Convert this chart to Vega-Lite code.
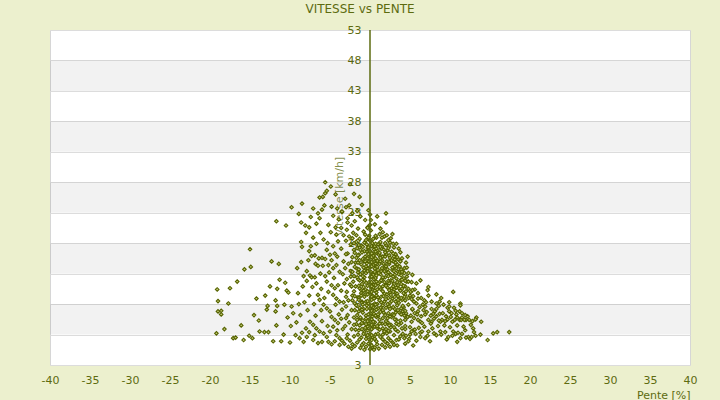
{
"$schema": "https://vega.github.io/schema/vega-lite/v6.json",
"width": 640,
"height": 335,
"autosize": {"type": "none"},
"padding": {"left": 50, "top": 30, "right": 30, "bottom": 35},
"background": "#ECF0CE",
"config": {"view": {"fill": "white", "stroke": "#d6d6d6", "strokeWidth": 1}, "font": "DejaVu Sans"},
"title": {"text": "VITESSE vs PENTE", "fontSize": 12, "fontWeight": "normal", "color": "#5d6b10", "font": "DejaVu Sans", "anchor": "middle", "dx": -10, "offset": 8},
"datasets": {
"bands": [{"start": 43, "end": 48}, {"start": 33, "end": 38}, {"start": 23, "end": 28}, {"start": 13, "end": 18}, {"start": 3, "end": 8}],
"points": [
{"pente":-19.1,"vitesse":10.4},{"pente":-17.5,"vitesse":10.6},{"pente":-19.0,"vitesse":8.5},{"pente":-17.7,"vitesse":8.1},{"pente":-19.0,"vitesse":6.8},{"pente":-18.6,"vitesse":6.9},{"pente":-18.6,"vitesse":6.3},{"pente":-14.5,"vitesse":6.2},{"pente":-16.1,"vitesse":4.5},{"pente":-18.2,"vitesse":3.9},{"pente":-19.2,"vitesse":3.2},{"pente":-17.1,"vitesse":2.4},{"pente":-16.8,"vitesse":2.5},{"pente":-15.8,"vitesse":2.1},{"pente":-15.1,"vitesse":2.8},{"pente":-14.7,"vitesse":2.4},{"pente":-13.8,"vitesse":3.5},{"pente":-13.2,"vitesse":3.4},{"pente":-12.7,"vitesse":3.4},{"pente":-12.1,"vitesse":1.9},{"pente":-11.1,"vitesse":1.9},{"pente":-10.0,"vitesse":1.7},{"pente":-15.0,"vitesse":17.0},{"pente":-12.3,"vitesse":15.0},{"pente":-15.7,"vitesse":13.7},{"pente":-14.9,"vitesse":14.1},{"pente":-16.6,"vitesse":11.7},{"pente":-11.7,"vitesse":21.6},{"pente":-10.5,"vitesse":20.9},{"pente":-9.8,"vitesse":23.9},{"pente":-8.5,"vitesse":24.5},{"pente":-11.3,"vitesse":12.0},{"pente":-12.5,"vitesse":10.9},{"pente":-13.1,"vitesse":9.4},{"pente":-10.6,"vitesse":11.5},{"pente":-11.6,"vitesse":10.5},{"pente":-10.4,"vitesse":10.2},{"pente":-10.2,"vitesse":9.9},{"pente":-11.8,"vitesse":8.6},{"pente":-11.6,"vitesse":7.7},{"pente":-12.8,"vitesse":7.7},{"pente":-12.9,"vitesse":7.1},{"pente":-11.8,"vitesse":6.8},{"pente":-10.7,"vitesse":7.9},{"pente":-9.8,"vitesse":7.6},{"pente":-9.6,"vitesse":6.5},{"pente":-10.3,"vitesse":5.8},{"pente":-9.9,"vitesse":4.4},{"pente":-11.7,"vitesse":4.5},{"pente":-13.9,"vitesse":5.3},{"pente":-14.2,"vitesse":8.9},{"pente":-10.8,"vitesse":3.0},{"pente":-9.3,"vitesse":2.9},{"pente":-11.4,"vitesse":14.6},
{"pente":-8.9,"vitesse":22.8},{"pente":-8.6,"vitesse":21.4},{"pente":-8.1,"vitesse":20.9},{"pente":-7.1,"vitesse":23.7},{"pente":-7.4,"vitesse":22.3},{"pente":-6.7,"vitesse":21.2},{"pente":-6.3,"vitesse":25.5},{"pente":-5.9,"vitesse":25.6},{"pente":-5.6,"vitesse":26.2},{"pente":-5.4,"vitesse":26.6},{"pente":-5.7,"vitesse":24.2},{"pente":-6.5,"vitesse":22.9},{"pente":-6.3,"vitesse":22.1},{"pente":-8.6,"vitesse":18.2},{"pente":-8.5,"vitesse":17.4},{"pente":-9.1,"vitesse":13.9},{"pente":-8.6,"vitesse":14.9},{"pente":-7.7,"vitesse":15.2},{"pente":-7.4,"vitesse":17.5},{"pente":-7.6,"vitesse":16.7},{"pente":-7.3,"vitesse":15.9},{"pente":-7.1,"vitesse":18.9},{"pente":-6.8,"vitesse":14.6},{"pente":-6.5,"vitesse":14.3},{"pente":-6.4,"vitesse":15.5},{"pente":-6.0,"vitesse":15.6},{"pente":-5.9,"vitesse":14.3},{"pente":-7.5,"vitesse":12.7},{"pente":-7.3,"vitesse":12.4},{"pente":-6.9,"vitesse":12.4},{"pente":-6.7,"vitesse":11.4},{"pente":-7.2,"vitesse":10.8},{"pente":-7.9,"vitesse":11.8},{"pente":-5.4,"vitesse":16.9},{"pente":-5.0,"vitesse":16.1},{"pente":-4.8,"vitesse":15.2},{"pente":-4.4,"vitesse":16.3},{"pente":-4.1,"vitesse":15.8},{"pente":-5.2,"vitesse":14.4},{"pente":-4.6,"vitesse":13.9},{"pente":-4.2,"vitesse":14.4},{"pente":-3.8,"vitesse":13.3},{"pente":-5.4,"vitesse":11.7},{"pente":-4.8,"vitesse":11.1},{"pente":-4.4,"vitesse":10.6},{"pente":-4.0,"vitesse":11.1},{"pente":-5.2,"vitesse":10.0},{"pente":-4.6,"vitesse":9.5},{"pente":-4.2,"vitesse":8.9},{"pente":-3.8,"vitesse":8.4},{"pente":-6.5,"vitesse":9.5},{"pente":-6.3,"vitesse":8.7},{"pente":-5.8,"vitesse":7.9},{"pente":-5.4,"vitesse":7.3},{"pente":-5.0,"vitesse":6.8},{"pente":-4.8,"vitesse":5.9},{"pente":-4.4,"vitesse":5.4},{"pente":-4.0,"vitesse":4.9},{"pente":-7.5,"vitesse":5.1},{"pente":-7.1,"vitesse":4.6},{"pente":-6.7,"vitesse":4.0},{"pente":-6.3,"vitesse":3.5},{"pente":-5.8,"vitesse":3.2},{"pente":-5.4,"vitesse":2.6},{"pente":-5.0,"vitesse":3.5},{"pente":-4.6,"vitesse":4.3},{"pente":-4.2,"vitesse":2.9},{"pente":-3.8,"vitesse":2.4},{"pente":-8.8,"vitesse":2.4},{"pente":-8.3,"vitesse":1.8},{"pente":-7.9,"vitesse":2.6},{"pente":-7.1,"vitesse":2.1},{"pente":-6.5,"vitesse":1.6},{"pente":-6.0,"vitesse":1.8},{"pente":-5.2,"vitesse":1.8},{"pente":-4.8,"vitesse":1.4},{"pente":-8.2,"vitesse":8.3},{"pente":-8.7,"vitesse":6.2},{"pente":-7.8,"vitesse":7.0},{"pente":-7.0,"vitesse":8.0},{"pente":-6.8,"vitesse":6.1},{"pente":-6.0,"vitesse":5.2},{"pente":-8.0,"vitesse":4.0},{"pente":-9.0,"vitesse":9.8},{"pente":-8.4,"vitesse":10.9},{"pente":-7.6,"vitesse":9.4},{"pente":-6.1,"vitesse":10.5},{"pente":-5.6,"vitesse":12.6},{"pente":-5.1,"vitesse":13.2},{"pente":-4.5,"vitesse":12.3},{"pente":-3.6,"vitesse":10.2},{"pente":-3.5,"vitesse":7.1},{"pente":-3.9,"vitesse":6.3},{"pente":-3.4,"vitesse":3.9},{"pente":-4.9,"vitesse":19.8},{"pente":-4.3,"vitesse":20.6},{"pente":-3.9,"vitesse":21.9},{"pente":-4.6,"vitesse":22.5},{"pente":-3.5,"vitesse":23.1},{"pente":-5.2,"vitesse":21.0},{"pente":-4.0,"vitesse":18.3},{"pente":-3.6,"vitesse":17.1},{"pente":-5.8,"vitesse":18.6},{"pente":-6.2,"vitesse":19.7},{"pente":-5.6,"vitesse":28.0},{"pente":-4.9,"vitesse":27.3},{"pente":-4.3,"vitesse":26.0},{"pente":-3.1,"vitesse":25.3},{"pente":-2.6,"vitesse":24.2},{"pente":-2.5,"vitesse":27.7},{"pente":-2.0,"vitesse":26.1},{"pente":-1.3,"vitesse":25.6},{"pente":-0.2,"vitesse":23.4},{"pente":-4.8,"vitesse":24.0},{"pente":-4.1,"vitesse":23.7},{"pente":-3.5,"vitesse":23.2},
{"pente":-2.8,"vitesse":22.1},{"pente":-1.9,"vitesse":21.6},{"pente":-1.2,"vitesse":22.4},{"pente":-0.6,"vitesse":21.8},{"pente":-2.3,"vitesse":20.9},{"pente":-2.9,"vitesse":20.2},{"pente":-2.1,"vitesse":19.7},{"pente":-1.5,"vitesse":20.4},{"pente":-0.8,"vitesse":19.9},{"pente":-0.3,"vitesse":20.6},{"pente":-2.6,"vitesse":19.1},{"pente":-3.0,"vitesse":18.4},{"pente":-2.4,"vitesse":17.8},{"pente":-1.7,"vitesse":18.2},{"pente":-1.1,"vitesse":17.6},{"pente":-0.5,"vitesse":18.5},{"pente":-2.0,"vitesse":16.9},{"pente":-2.8,"vitesse":16.3},{"pente":-2.2,"vitesse":15.7},{"pente":-1.4,"vitesse":16.1},{"pente":-0.9,"vitesse":15.4},{"pente":-0.4,"vitesse":16.6},{"pente":-1.8,"vitesse":14.8},{"pente":-2.7,"vitesse":14.6},{"pente":-3.1,"vitesse":13.9},{"pente":-2.4,"vitesse":13.4},{"pente":-1.6,"vitesse":13.8},{"pente":-1.0,"vitesse":13.1},{"pente":-0.5,"vitesse":14.2},{"pente":-2.0,"vitesse":12.6},{"pente":-2.9,"vitesse":12.1},{"pente":-1.3,"vitesse":11.9},{"pente":-0.7,"vitesse":12.4},{"pente":-2.5,"vitesse":11.2},{"pente":-1.8,"vitesse":10.9},{"pente":-0.3,"vitesse":11.0},{"pente":-1.1,"vitesse":10.3},{"pente":-2.9,"vitesse":10.0},{"pente":-2.2,"vitesse":9.4},{"pente":-1.5,"vitesse":9.1},{"pente":-0.6,"vitesse":9.6},{"pente":-2.7,"vitesse":8.6},{"pente":-1.9,"vitesse":8.1},{"pente":-1.0,"vitesse":8.4},{"pente":-0.4,"vitesse":7.8},{"pente":-3.0,"vitesse":7.6},{"pente":-2.3,"vitesse":7.0},{"pente":-1.4,"vitesse":6.8},{"pente":-0.8,"vitesse":7.2},{"pente":-2.8,"vitesse":6.2},{"pente":-2.0,"vitesse":5.8},{"pente":-1.2,"vitesse":5.6},{"pente":-0.5,"vitesse":6.1},{"pente":-2.6,"vitesse":5.0},{"pente":-1.7,"vitesse":4.7},{"pente":-0.9,"vitesse":4.9},{"pente":-0.3,"vitesse":4.3},{"pente":-3.1,"vitesse":4.4},{"pente":-2.3,"vitesse":3.9},{"pente":-1.4,"vitesse":3.7},{"pente":-0.7,"vitesse":3.4},{"pente":-2.8,"vitesse":3.0},{"pente":-2.0,"vitesse":2.7},{"pente":-1.1,"vitesse":2.5},{"pente":-0.4,"vitesse":2.8},{"pente":-2.5,"vitesse":2.0},{"pente":-1.6,"vitesse":1.7},{"pente":-0.8,"vitesse":1.6},{"pente":-3.2,"vitesse":1.5},{"pente":-1.9,"vitesse":1.1},{"pente":-1.2,"vitesse":0.8},{"pente":-0.5,"vitesse":1.0},{"pente":-2.7,"vitesse":1.0},
{"pente":0.0,"vitesse":0.6},{"pente":0.1,"vitesse":1.4},{"pente":-0.1,"vitesse":2.2},{"pente":0.0,"vitesse":3.1},{"pente":0.2,"vitesse":3.9},{"pente":-0.1,"vitesse":4.8},{"pente":0.0,"vitesse":5.6},{"pente":0.1,"vitesse":6.5},{"pente":0.0,"vitesse":7.3},{"pente":-0.2,"vitesse":8.1},{"pente":0.1,"vitesse":9.0},{"pente":0.0,"vitesse":9.9},{"pente":0.2,"vitesse":10.7},{"pente":-0.1,"vitesse":11.6},{"pente":0.0,"vitesse":12.4},{"pente":0.1,"vitesse":13.3},{"pente":0.0,"vitesse":14.1},{"pente":-0.1,"vitesse":15.0},{"pente":0.1,"vitesse":15.8},{"pente":0.0,"vitesse":16.7},{"pente":0.2,"vitesse":17.5},{"pente":0.0,"vitesse":18.4},{"pente":-0.1,"vitesse":19.2},{"pente":0.1,"vitesse":20.1},{"pente":0.0,"vitesse":21.0},{"pente":0.1,"vitesse":21.8},{"pente":0.0,"vitesse":22.7},{"pente":0.3,"vitesse":0.9},{"pente":0.3,"vitesse":2.6},{"pente":0.3,"vitesse":4.4},{"pente":0.3,"vitesse":6.0},{"pente":0.3,"vitesse":7.8},{"pente":0.3,"vitesse":9.4},{"pente":0.3,"vitesse":11.2},{"pente":0.3,"vitesse":12.9},{"pente":0.3,"vitesse":14.6},{"pente":0.3,"vitesse":16.3},{"pente":0.3,"vitesse":18.0},{"pente":-0.3,"vitesse":2.9},{"pente":-0.3,"vitesse":5.2},{"pente":-0.3,"vitesse":10.1},{"pente":-0.3,"vitesse":13.8},{"pente":-0.3,"vitesse":17.2},{"pente":-0.3,"vitesse":20.5},
{"pente":0.9,"vitesse":22.4},{"pente":2.0,"vitesse":22.9},{"pente":2.0,"vitesse":21.4},{"pente":1.3,"vitesse":20.4},{"pente":0.6,"vitesse":21.1},{"pente":1.6,"vitesse":19.8},{"pente":2.8,"vitesse":19.5},{"pente":1.8,"vitesse":19.1},{"pente":2.3,"vitesse":18.5},{"pente":0.8,"vitesse":18.9},{"pente":1.2,"vitesse":17.9},{"pente":2.9,"vitesse":17.9},{"pente":2.4,"vitesse":17.5},{"pente":0.5,"vitesse":17.4},{"pente":1.7,"vitesse":17.0},{"pente":0.7,"vitesse":16.3},{"pente":1.3,"vitesse":15.9},{"pente":2.0,"vitesse":16.2},{"pente":3.0,"vitesse":15.8},{"pente":2.6,"vitesse":15.3},{"pente":1.0,"vitesse":15.0},{"pente":1.7,"vitesse":14.6},{"pente":2.9,"vitesse":15.0},{"pente":2.7,"vitesse":15.2},{"pente":0.6,"vitesse":14.4},{"pente":3.5,"vitesse":15.4},{"pente":3.3,"vitesse":13.9},{"pente":3.1,"vitesse":14.2},{"pente":3.5,"vitesse":13.3},{"pente":2.2,"vitesse":13.7},{"pente":1.4,"vitesse":13.4},{"pente":0.8,"vitesse":13.0},{"pente":2.6,"vitesse":12.8},{"pente":1.9,"vitesse":12.4},{"pente":4.3,"vitesse":13.9},{"pente":4.2,"vitesse":13.2},{"pente":3.7,"vitesse":13.2},{"pente":4.3,"vitesse":13.1},{"pente":0.5,"vitesse":12.1},{"pente":1.2,"vitesse":11.6},{"pente":2.3,"vitesse":11.8},{"pente":3.0,"vitesse":11.3},{"pente":3.8,"vitesse":11.9},{"pente":4.2,"vitesse":12.2},{"pente":4.6,"vitesse":11.7},{"pente":4.8,"vitesse":11.7},{"pente":1.6,"vitesse":10.9},{"pente":2.7,"vitesse":10.6},{"pente":3.5,"vitesse":11.1},{"pente":0.9,"vitesse":10.4},{"pente":4.0,"vitesse":10.5},{"pente":4.4,"vitesse":10.9},{"pente":4.8,"vitesse":10.5},{"pente":4.4,"vitesse":9.5},{"pente":4.8,"vitesse":9.0},{"pente":4.0,"vitesse":8.7},{"pente":3.2,"vitesse":9.8},{"pente":2.1,"vitesse":9.6},{"pente":1.4,"vitesse":9.2},{"pente":0.6,"vitesse":9.0},{"pente":2.8,"vitesse":8.9},{"pente":1.8,"vitesse":8.4},{"pente":3.6,"vitesse":8.2},{"pente":0.9,"vitesse":8.0},{"pente":1.3,"vitesse":7.4},{"pente":2.4,"vitesse":7.6},{"pente":3.1,"vitesse":7.2},{"pente":4.2,"vitesse":7.5},{"pente":0.5,"vitesse":6.9},{"pente":1.7,"vitesse":6.6},{"pente":2.8,"vitesse":6.3},{"pente":3.6,"vitesse":6.7},{"pente":4.5,"vitesse":6.5},{"pente":4.7,"vitesse":5.9},{"pente":1.0,"vitesse":6.0},{"pente":2.2,"vitesse":5.7},{"pente":3.3,"vitesse":5.4},{"pente":0.6,"vitesse":5.0},{"pente":1.5,"vitesse":4.8},{"pente":2.6,"vitesse":4.6},{"pente":3.9,"vitesse":4.9},{"pente":0.9,"vitesse":4.1},{"pente":2.0,"vitesse":3.9},{"pente":3.0,"vitesse":4.2},{"pente":4.0,"vitesse":4.0},{"pente":1.8,"vitesse":3.5},{"pente":2.5,"vitesse":3.5},{"pente":3.5,"vitesse":3.5},{"pente":0.7,"vitesse":3.0},{"pente":1.3,"vitesse":2.6},{"pente":2.3,"vitesse":2.4},{"pente":2.9,"vitesse":1.6},{"pente":3.3,"vitesse":2.1},{"pente":1.9,"vitesse":1.8},{"pente":1.5,"vitesse":1.3},{"pente":0.8,"vitesse":1.9},{"pente":0.6,"vitesse":0.9},{"pente":1.1,"vitesse":0.7},{"pente":2.5,"vitesse":1.0},{"pente":3.8,"vitesse":2.7},
{"pente":4.7,"vitesse":15.8},{"pente":5.8,"vitesse":11.4},{"pente":6.3,"vitesse":11.9},{"pente":5.6,"vitesse":10.4},{"pente":5.1,"vitesse":10.0},{"pente":7.2,"vitesse":10.3},{"pente":10.4,"vitesse":10.0},{"pente":6.4,"vitesse":9.0},{"pente":7.3,"vitesse":9.4},{"pente":8.9,"vitesse":9.0},{"pente":8.7,"vitesse":8.4},{"pente":7.7,"vitesse":8.4},{"pente":8.3,"vitesse":8.1},{"pente":11.3,"vitesse":8.1},{"pente":11.3,"vitesse":7.8},{"pente":9.7,"vitesse":7.4},{"pente":10.5,"vitesse":7.4},{"pente":11.2,"vitesse":6.8},{"pente":11.5,"vitesse":6.5},{"pente":10.2,"vitesse":6.5},{"pente":10.8,"vitesse":6.3},{"pente":13.3,"vitesse":5.8},{"pente":13.2,"vitesse":5.5},{"pente":12.4,"vitesse":5.4},{"pente":12.0,"vitesse":5.4},{"pente":11.2,"vitesse":5.4},{"pente":11.4,"vitesse":5.4},{"pente":10.6,"vitesse":5.4},{"pente":10.3,"vitesse":5.1},{"pente":9.7,"vitesse":5.5},{"pente":9.0,"vitesse":5.4},{"pente":8.8,"vitesse":5.1},{"pente":8.7,"vitesse":6.4},{"pente":8.3,"vitesse":6.0},{"pente":7.9,"vitesse":6.4},{"pente":7.3,"vitesse":5.4},{"pente":7.7,"vitesse":5.1},{"pente":6.3,"vitesse":5.1},{"pente":6.5,"vitesse":4.9},{"pente":7.3,"vitesse":3.5},{"pente":7.8,"vitesse":4.0},{"pente":8.8,"vitesse":3.5},{"pente":8.9,"vitesse":3.0},{"pente":8.3,"vitesse":2.9},{"pente":10.4,"vitesse":3.5},{"pente":10.7,"vitesse":3.1},{"pente":10.3,"vitesse":2.8},{"pente":11.0,"vitesse":3.3},{"pente":11.5,"vitesse":3.1},{"pente":12.3,"vitesse":2.6},{"pente":12.5,"vitesse":2.3},{"pente":12.0,"vitesse":2.5},{"pente":12.7,"vitesse":2.6},{"pente":13.2,"vitesse":2.8},{"pente":15.4,"vitesse":3.2},{"pente":15.9,"vitesse":3.4},{"pente":17.4,"vitesse":3.4},{"pente":14.7,"vitesse":2.1},{"pente":4.9,"vitesse":2.3},{"pente":5.7,"vitesse":3.1},{"pente":6.3,"vitesse":3.3},{"pente":6.5,"vitesse":3.5},{"pente":4.5,"vitesse":2.8},{"pente":5.2,"vitesse":5.1},{"pente":5.5,"vitesse":5.7},{"pente":6.0,"vitesse":5.4},{"pente":6.0,"vitesse":6.8},{"pente":6.7,"vitesse":7.0},{"pente":6.9,"vitesse":6.3},{"pente":5.6,"vitesse":6.5},{"pente":5.1,"vitesse":6.1},{"pente":4.7,"vitesse":5.9},{"pente":9.5,"vitesse":6.0},{"pente":9.4,"vitesse":5.2},{"pente":11.5,"vitesse":5.8},{"pente":11.8,"vitesse":5.4},{"pente":7.7,"vitesse":7.2},{"pente":8.1,"vitesse":6.8},{"pente":8.3,"vitesse":7.2},{"pente":6.6,"vitesse":7.9},{"pente":6.9,"vitesse":7.6},{"pente":5.5,"vitesse":8.4},{"pente":5.8,"vitesse":8.1},{"pente":5.3,"vitesse":12.8},{"pente":6.0,"vitesse":9.8},{"pente":6.8,"vitesse":8.6},{"pente":9.2,"vitesse":7.9},{"pente":9.9,"vitesse":8.3},{"pente":5.0,"vitesse":4.2},{"pente":5.8,"vitesse":2.0},{"pente":6.9,"vitesse":2.4},{"pente":7.5,"vitesse":1.9},{"pente":9.6,"vitesse":2.2},{"pente":10.9,"vitesse":1.8},{"pente":13.8,"vitesse":3.0},{"pente":4.4,"vitesse":1.5},{"pente":5.4,"vitesse":1.2},
{"pente":-1.4,"vitesse":17.7},{"pente":-0.9,"vitesse":17.4},{"pente":-0.4,"vitesse":17.8},{"pente":0.6,"vitesse":17.5},{"pente":1.0,"vitesse":17.8},{"pente":1.5,"vitesse":17.4},{"pente":2.0,"vitesse":17.7},
{"pente":-1.2,"vitesse":16.9},{"pente":-0.7,"vitesse":16.7},{"pente":0.5,"vitesse":17.0},{"pente":0.9,"vitesse":16.8},{"pente":1.4,"vitesse":17.1},{"pente":2.2,"vitesse":16.8},{"pente":2.7,"vitesse":16.6},
{"pente":-1.5,"vitesse":16.0},{"pente":-0.6,"vitesse":15.8},{"pente":-0.2,"vitesse":16.2},{"pente":0.4,"vitesse":15.9},{"pente":1.1,"vitesse":16.1},{"pente":1.6,"vitesse":15.8},{"pente":2.4,"vitesse":16.0},{"pente":3.2,"vitesse":16.2},
{"pente":-1.3,"vitesse":15.2},{"pente":-0.8,"vitesse":15.0},{"pente":0.5,"vitesse":15.3},{"pente":0.9,"vitesse":15.1},{"pente":1.5,"vitesse":15.2},{"pente":2.1,"vitesse":15.0},{"pente":3.1,"vitesse":15.3},
{"pente":-1.1,"vitesse":14.5},{"pente":-0.4,"vitesse":14.7},{"pente":0.4,"vitesse":14.4},{"pente":1.2,"vitesse":14.6},{"pente":1.9,"vitesse":14.3},{"pente":2.4,"vitesse":14.6},{"pente":3.4,"vitesse":14.5},
{"pente":-1.4,"vitesse":13.7},{"pente":-0.7,"vitesse":13.5},{"pente":0.6,"vitesse":13.8},{"pente":1.0,"vitesse":13.6},{"pente":1.7,"vitesse":13.8},{"pente":2.8,"vitesse":13.6},{"pente":3.9,"vitesse":13.7},
{"pente":-1.2,"vitesse":12.9},{"pente":-0.5,"vitesse":13.1},{"pente":0.4,"vitesse":12.8},{"pente":1.3,"vitesse":12.9},{"pente":2.0,"vitesse":13.1},{"pente":3.1,"vitesse":12.8},{"pente":3.6,"vitesse":12.9},
{"pente":-1.5,"vitesse":12.1},{"pente":-0.9,"vitesse":12.0},{"pente":0.7,"vitesse":12.3},{"pente":1.5,"vitesse":12.1},{"pente":2.6,"vitesse":11.9},{"pente":3.3,"vitesse":12.2},{"pente":4.0,"vitesse":12.0},
{"pente":-1.0,"vitesse":11.3},{"pente":-0.5,"vitesse":11.5},{"pente":0.5,"vitesse":11.2},{"pente":1.0,"vitesse":11.4},{"pente":2.0,"vitesse":11.2},{"pente":2.4,"vitesse":11.4},{"pente":3.9,"vitesse":11.3},
{"pente":-1.3,"vitesse":10.6},{"pente":-0.6,"vitesse":10.4},{"pente":0.4,"vitesse":10.7},{"pente":1.3,"vitesse":10.5},{"pente":2.2,"vitesse":10.7},{"pente":3.0,"vitesse":10.4},{"pente":3.6,"vitesse":10.6},
{"pente":-1.1,"vitesse":9.8},{"pente":-0.3,"vitesse":9.6},{"pente":0.8,"vitesse":9.9},{"pente":1.8,"vitesse":9.7},{"pente":2.5,"vitesse":9.9},{"pente":3.4,"vitesse":9.7},{"pente":4.2,"vitesse":9.8},
{"pente":-1.4,"vitesse":9.0},{"pente":-0.7,"vitesse":9.2},{"pente":0.5,"vitesse":8.9},{"pente":1.0,"vitesse":9.1},{"pente":2.3,"vitesse":9.0},{"pente":3.1,"vitesse":9.2},{"pente":3.9,"vitesse":9.0},
{"pente":-1.0,"vitesse":8.2},{"pente":-0.5,"vitesse":8.4},{"pente":0.6,"vitesse":8.1},{"pente":1.4,"vitesse":8.3},{"pente":2.5,"vitesse":8.2},{"pente":3.2,"vitesse":8.4},
{"pente":-1.3,"vitesse":7.4},{"pente":-0.4,"vitesse":7.2},{"pente":0.4,"vitesse":7.5},{"pente":1.0,"vitesse":7.3},{"pente":2.0,"vitesse":7.4},{"pente":2.9,"vitesse":7.5},{"pente":3.9,"vitesse":7.3},
{"pente":-0.9,"vitesse":6.6},{"pente":0.5,"vitesse":6.4},{"pente":1.3,"vitesse":6.7},{"pente":2.3,"vitesse":6.5},{"pente":3.2,"vitesse":6.6},{"pente":4.1,"vitesse":6.8},
{"pente":-1.2,"vitesse":5.8},{"pente":-0.5,"vitesse":5.6},{"pente":0.8,"vitesse":5.9},{"pente":1.6,"vitesse":5.7},{"pente":2.7,"vitesse":5.9},
{"pente":-1.0,"vitesse":4.9},{"pente":0.4,"vitesse":5.1},{"pente":1.2,"vitesse":4.8},{"pente":2.2,"vitesse":5.0},{"pente":3.3,"vitesse":4.8},
{"pente":-0.6,"vitesse":4.1},{"pente":0.6,"vitesse":4.3},{"pente":1.6,"vitesse":4.0},{"pente":2.6,"vitesse":4.2},
{"pente":-1.7,"vitesse":19.3},{"pente":-0.6,"vitesse":19.4},{"pente":0.7,"vitesse":19.2},{"pente":1.2,"vitesse":19.5},{"pente":2.1,"vitesse":19.3},
{"pente":-2.2,"vitesse":18.8},{"pente":-1.3,"vitesse":18.7},{"pente":-0.2,"vitesse":18.9},{"pente":0.4,"vitesse":18.7},{"pente":1.5,"vitesse":18.9},{"pente":2.6,"vitesse":18.8},
{"pente":-2.0,"vitesse":18.0},{"pente":-0.7,"vitesse":18.1},{"pente":0.7,"vitesse":17.9},{"pente":1.3,"vitesse":18.2},{"pente":1.9,"vitesse":18.0},{"pente":2.5,"vitesse":18.1},{"pente":3.3,"vitesse":17.9},
{"pente":-1.6,"vitesse":17.2},{"pente":-0.2,"vitesse":17.3},{"pente":0.8,"vitesse":17.1},{"pente":1.3,"vitesse":17.4},{"pente":2.3,"vitesse":17.2},{"pente":3.0,"vitesse":17.3},{"pente":3.6,"vitesse":17.1},
{"pente":-1.9,"vitesse":16.4},{"pente":-1.0,"vitesse":16.5},{"pente":0.2,"vitesse":16.3},{"pente":0.7,"vitesse":16.6},{"pente":1.2,"vitesse":16.4},{"pente":1.9,"vitesse":16.5},{"pente":2.9,"vitesse":16.3},{"pente":3.8,"vitesse":16.5},
{"pente":-1.7,"vitesse":15.6},{"pente":-0.3,"vitesse":15.5},{"pente":0.2,"vitesse":15.7},{"pente":0.7,"vitesse":15.5},{"pente":1.3,"vitesse":15.6},{"pente":1.9,"vitesse":15.8},{"pente":2.5,"vitesse":15.6},{"pente":3.4,"vitesse":15.7},{"pente":4.0,"vitesse":15.5},
{"pente":-2.3,"vitesse":14.9},{"pente":-1.5,"vitesse":14.8},{"pente":-0.6,"vitesse":15.0},{"pente":0.2,"vitesse":14.9},{"pente":0.7,"vitesse":14.7},{"pente":1.3,"vitesse":15.0},{"pente":2.4,"vitesse":14.9},{"pente":3.2,"vitesse":14.8},{"pente":3.8,"vitesse":15.0},{"pente":4.5,"vitesse":14.8},
{"pente":-1.9,"vitesse":14.1},{"pente":-0.8,"vitesse":14.0},{"pente":0.2,"vitesse":14.2},{"pente":0.9,"vitesse":14.1},{"pente":1.5,"vitesse":13.9},{"pente":2.0,"vitesse":14.2},{"pente":2.8,"vitesse":14.0},{"pente":3.7,"vitesse":14.2},{"pente":4.6,"vitesse":14.0},
{"pente":-2.2,"vitesse":13.3},{"pente":-1.5,"vitesse":13.2},{"pente":-0.3,"vitesse":13.4},{"pente":0.6,"vitesse":13.3},{"pente":1.1,"vitesse":13.1},{"pente":1.8,"vitesse":13.4},{"pente":2.3,"vitesse":13.2},{"pente":3.0,"vitesse":13.4},{"pente":4.0,"vitesse":13.3},{"pente":4.8,"vitesse":13.1},
{"pente":-2.4,"vitesse":12.5},{"pente":-1.6,"vitesse":12.4},{"pente":-0.9,"vitesse":12.6},{"pente":0.2,"vitesse":12.5},{"pente":0.8,"vitesse":12.7},{"pente":1.6,"vitesse":12.4},{"pente":2.3,"vitesse":12.6},{"pente":2.9,"vitesse":12.5},{"pente":3.9,"vitesse":12.7},{"pente":4.6,"vitesse":12.5},
{"pente":-2.1,"vitesse":11.7},{"pente":-0.7,"vitesse":11.8},{"pente":0.2,"vitesse":11.6},{"pente":0.8,"vitesse":11.7},{"pente":1.4,"vitesse":11.9},{"pente":1.8,"vitesse":11.6},{"pente":2.8,"vitesse":11.8},{"pente":3.4,"vitesse":11.6},{"pente":4.4,"vitesse":11.8},{"pente":5.2,"vitesse":11.6},
{"pente":-2.3,"vitesse":10.9},{"pente":-1.4,"vitesse":11.0},{"pente":-0.8,"vitesse":10.8},{"pente":0.2,"vitesse":10.9},{"pente":0.7,"vitesse":11.1},{"pente":1.2,"vitesse":10.8},{"pente":2.0,"vitesse":11.0},{"pente":2.9,"vitesse":10.9},{"pente":3.3,"vitesse":10.7},{"pente":4.2,"vitesse":11.0},
{"pente":-2.0,"vitesse":10.1},{"pente":-0.8,"vitesse":10.2},{"pente":0.2,"vitesse":10.0},{"pente":0.6,"vitesse":10.2},{"pente":1.6,"vitesse":10.1},{"pente":2.4,"vitesse":10.3},{"pente":2.9,"vitesse":10.0},{"pente":3.8,"vitesse":10.2},{"pente":4.5,"vitesse":10.1},{"pente":5.3,"vitesse":10.3},
{"pente":-1.9,"vitesse":9.3},{"pente":-1.1,"vitesse":9.4},{"pente":0.2,"vitesse":9.2},{"pente":0.8,"vitesse":9.4},{"pente":1.7,"vitesse":9.3},{"pente":2.6,"vitesse":9.5},{"pente":3.5,"vitesse":9.3},{"pente":4.3,"vitesse":9.2},{"pente":5.0,"vitesse":9.4},
{"pente":-2.2,"vitesse":8.6},{"pente":-1.4,"vitesse":8.7},{"pente":-0.3,"vitesse":8.5},{"pente":0.2,"vitesse":8.7},{"pente":1.2,"vitesse":8.6},{"pente":2.0,"vitesse":8.8},{"pente":2.7,"vitesse":8.5},{"pente":3.5,"vitesse":8.7},{"pente":4.4,"vitesse":8.6},{"pente":5.2,"vitesse":8.8},
{"pente":-1.7,"vitesse":7.8},{"pente":-0.9,"vitesse":7.9},{"pente":0.2,"vitesse":7.7},{"pente":0.7,"vitesse":7.9},{"pente":1.6,"vitesse":7.8},{"pente":2.2,"vitesse":8.0},{"pente":3.4,"vitesse":7.8},{"pente":4.1,"vitesse":7.7},{"pente":4.8,"vitesse":7.9},
{"pente":-1.9,"vitesse":7.0},{"pente":-1.0,"vitesse":7.1},{"pente":0.2,"vitesse":6.9},{"pente":0.8,"vitesse":7.1},{"pente":1.6,"vitesse":7.0},{"pente":2.5,"vitesse":7.2},{"pente":3.5,"vitesse":7.0},{"pente":4.4,"vitesse":6.9},{"pente":5.3,"vitesse":7.1},
{"pente":-1.6,"vitesse":6.2},{"pente":-0.2,"vitesse":6.3},{"pente":0.7,"vitesse":6.1},{"pente":1.0,"vitesse":6.3},{"pente":1.9,"vitesse":6.2},{"pente":2.5,"vitesse":6.0},{"pente":3.0,"vitesse":6.2},{"pente":3.9,"vitesse":6.3},{"pente":4.3,"vitesse":6.1},
{"pente":-1.6,"vitesse":5.4},{"pente":-0.9,"vitesse":5.3},{"pente":0.2,"vitesse":5.5},{"pente":1.2,"vitesse":5.4},{"pente":2.0,"vitesse":5.2},{"pente":3.1,"vitesse":5.5},{"pente":3.8,"vitesse":5.3},{"pente":4.4,"vitesse":5.4},
{"pente":-2.0,"vitesse":4.6},{"pente":-1.3,"vitesse":4.5},{"pente":-0.5,"vitesse":4.7},{"pente":0.2,"vitesse":4.6},{"pente":0.9,"vitesse":4.4},{"pente":1.9,"vitesse":4.7},{"pente":2.4,"vitesse":4.5},{"pente":3.6,"vitesse":4.6},{"pente":4.4,"vitesse":4.4},
{"pente":-1.8,"vitesse":3.8},{"pente":-1.0,"vitesse":3.9},{"pente":-0.3,"vitesse":3.7},{"pente":0.2,"vitesse":3.9},{"pente":1.2,"vitesse":3.8},{"pente":2.3,"vitesse":3.6},{"pente":3.2,"vitesse":3.8},{"pente":4.4,"vitesse":3.9},{"pente":5.4,"vitesse":3.7},
{"pente":-1.5,"vitesse":3.0},{"pente":-0.8,"vitesse":3.1},{"pente":0.2,"vitesse":2.9},{"pente":1.0,"vitesse":3.1},{"pente":1.6,"vitesse":3.0},{"pente":2.1,"vitesse":3.2},{"pente":3.0,"vitesse":2.9},{"pente":4.1,"vitesse":3.1},{"pente":5.0,"vitesse":3.0},
{"pente":-1.3,"vitesse":2.2},{"pente":-0.5,"vitesse":2.3},{"pente":0.2,"vitesse":2.1},{"pente":0.6,"vitesse":2.3},{"pente":1.6,"vitesse":2.2},{"pente":2.6,"vitesse":2.0},{"pente":3.6,"vitesse":2.2},{"pente":4.3,"vitesse":2.4},
{"pente":-2.2,"vitesse":1.4},{"pente":-1.0,"vitesse":1.3},{"pente":-0.2,"vitesse":1.5},{"pente":0.2,"vitesse":1.2},{"pente":0.9,"vitesse":1.4},{"pente":2.2,"vitesse":1.5},{"pente":3.0,"vitesse":1.3},
{"pente":-3.8,"vitesse":1.3},{"pente":-2.3,"vitesse":0.7},{"pente":-0.7,"vitesse":0.5},{"pente":0.5,"vitesse":0.5},{"pente":1.9,"vitesse":0.9},{"pente":3.4,"vitesse":1.2},{"pente":4.8,"vitesse":1.9},{"pente":-4.4,"vitesse":1.9},
{"pente":5.3,"vitesse":7.2},{"pente":6.2,"vitesse":7.5},{"pente":7.0,"vitesse":8.3},{"pente":7.6,"vitesse":6.1},{"pente":8.6,"vitesse":7.7},{"pente":9.1,"vitesse":6.5},{"pente":9.9,"vitesse":6.8},{"pente":10.1,"vitesse":5.9},{"pente":10.9,"vitesse":5.8},{"pente":11.9,"vitesse":6.2},{"pente":12.6,"vitesse":4.6},{"pente":12.9,"vitesse":4.0},{"pente":11.7,"vitesse":4.3},{"pente":10.9,"vitesse":4.5},{"pente":10.0,"vitesse":4.2},{"pente":9.3,"vitesse":4.5},{"pente":8.5,"vitesse":4.4},{"pente":7.6,"vitesse":4.8},{"pente":6.8,"vitesse":4.3},{"pente":6.1,"vitesse":4.1},{"pente":5.6,"vitesse":3.8},{"pente":5.9,"vitesse":6.3},{"pente":6.4,"vitesse":6.0},{"pente":7.1,"vitesse":6.7},{"pente":8.0,"vitesse":5.6},{"pente":8.6,"vitesse":5.3},{"pente":9.9,"vitesse":7.6},{"pente":10.7,"vitesse":6.9},{"pente":12.2,"vitesse":6.0},{"pente":12.8,"vitesse":5.2},{"pente":13.9,"vitesse":5.1},{"pente":7.2,"vitesse":2.8},{"pente":8.0,"vitesse":3.2},{"pente":9.4,"vitesse":3.4},{"pente":9.8,"vitesse":2.6},{"pente":11.3,"vitesse":2.4},{"pente":11.9,"vitesse":3.7},{"pente":13.0,"vitesse":3.4},{"pente":6.3,"vitesse":2.6},{"pente":5.2,"vitesse":3.5},{"pente":6.0,"vitesse":8.9},{"pente":7.3,"vitesse":10.8},{"pente":5.4,"vitesse":9.3},{"pente":8.3,"vitesse":9.6},
{"pente":-3.0,"vitesse":16.2},{"pente":-3.3,"vitesse":15.0},{"pente":-3.4,"vitesse":12.9},{"pente":-3.2,"vitesse":11.4},{"pente":-3.0,"vitesse":9.2},{"pente":-3.3,"vitesse":8.3},{"pente":-3.6,"vitesse":5.6},{"pente":-3.0,"vitesse":5.7},{"pente":-3.5,"vitesse":2.0},{"pente":-2.9,"vitesse":2.4},{"pente":-3.3,"vitesse":19.3},{"pente":-3.6,"vitesse":20.5},{"pente":-2.8,"vitesse":21.4},{"pente":-2.2,"vitesse":22.9},{"pente":-3.0,"vitesse":23.9},{"pente":-1.6,"vitesse":23.3},{"pente":-1.0,"vitesse":24.3},{"pente":-4.2,"vitesse":19.4},{"pente":-4.6,"vitesse":17.5},{"pente":-5.3,"vitesse":18.0},{"pente":-5.6,"vitesse":15.4},{"pente":-6.9,"vitesse":16.0},{"pente":-6.7,"vitesse":17.9},{"pente":-6.2,"vitesse":13.0},{"pente":-5.7,"vitesse":9.0},{"pente":-6.1,"vitesse":7.0},{"pente":-5.3,"vitesse":4.4},{"pente":-4.3,"vitesse":7.9},{"pente":-4.1,"vitesse":3.7},{"pente":-6.9,"vitesse":2.9},{"pente":-7.6,"vitesse":3.4},{"pente":-8.5,"vitesse":3.3},{"pente":-9.2,"vitesse":5.0},{"pente":-8.9,"vitesse":8.0},{"pente":-7.9,"vitesse":13.4},{"pente":-8.3,"vitesse":12.6},{"pente":-8.0,"vitesse":19.7},{"pente":-7.6,"vitesse":20.6},{"pente":-6.0,"vitesse":23.5}
]
},
"resolve": {"axis": {"y": "independent"}},
"layer": [
{
"data": {"name": "bands"},
"mark": {"type": "rect", "fill": "#000000", "opacity": 0.05},
"encoding": {
"y": {"field": "start", "type": "quantitative", "scale": {"domain": [-2, 53], "nice": false, "zero": false},
"axis": {"orient": "right", "values": [-2, 3, 8, 13, 18, 23, 28, 33, 38, 43, 48, 53], "grid": true, "gridColor": "#dcdcdc", "gridWidth": 1, "labels": false, "ticks": false, "domain": false, "title": null}},
"y2": {"field": "end"}
}
},
{
"data": {"name": "points"},
"mark": {"type": "point", "shape": "diamond", "size": 13, "filled": true, "fill": "#c2ca72", "stroke": "#566300", "strokeWidth": 1.1, "opacity": 1},
"encoding": {
"x": {"field": "pente", "type": "quantitative", "scale": {"domain": [-40, 40], "nice": false, "zero": false},
"axis": {"values": [-40, -35, -30, -25, -20, -15, -10, -5, 0, 5, 10, 15, 20, 25, 30, 35, 40], "labelExpr": "'' + datum.value", "grid": false, "domain": false, "ticks": false, "labelPadding": 9, "labelFontSize": 11, "labelColor": "#5d6b10", "labelFlush": false, "labelOverlap": false, "labelSeparation": 0, "title": "Pente [%]", "titleAnchor": "end", "titleAlign": "right", "titleFontSize": 11, "titleFontWeight": "normal", "titleColor": "#5d6b10", "titlePadding": 4}},
"y": {"field": "vitesse", "type": "quantitative", "scale": {"domain": [-2, 53], "nice": false, "zero": false},
"axis": {"orient": "left", "offset": -320, "values": [-2, 3, 8, 13, 18, 23, 28, 33, 38, 43, 48, 53], "labelExpr": "datum.value == -2 ? '3' : (datum.value == 3 ? '' : '' + datum.value)", "grid": false, "domain": false, "ticks": false, "labelPadding": 9, "labelFontSize": 11, "labelColor": "#5d6b10", "labelOverlap": false, "title": "Vitesse [km/h]", "titleFontSize": 11, "titleFontWeight": "normal", "titleColor": "#5d6b10", "titleOpacity": 0.75, "titleX": -31, "titleY": 166, "titleAngle": 270, "titleAlign": "center", "titleBaseline": "middle"}}
}
},
{
"data": {"values": [{}]},
"mark": {"type": "rule", "color": "#5d6b10", "strokeWidth": 1.5},
"encoding": {"x": {"datum": 0, "type": "quantitative",
"axis": {"values": [-40, -35, -30, -25, -20, -15, -10, -5, 0, 5, 10, 15, 20, 25, 30, 35, 40], "labelExpr": "'' + datum.value", "grid": false, "domain": false, "ticks": false, "labelPadding": 9, "labelFontSize": 11, "labelColor": "#5d6b10", "labelFlush": false, "labelOverlap": false, "labelSeparation": 0, "title": "Pente [%]", "titleAnchor": "end", "titleAlign": "right", "titleFontSize": 11, "titleFontWeight": "normal", "titleColor": "#5d6b10", "titlePadding": 4}}}
}
]
}
